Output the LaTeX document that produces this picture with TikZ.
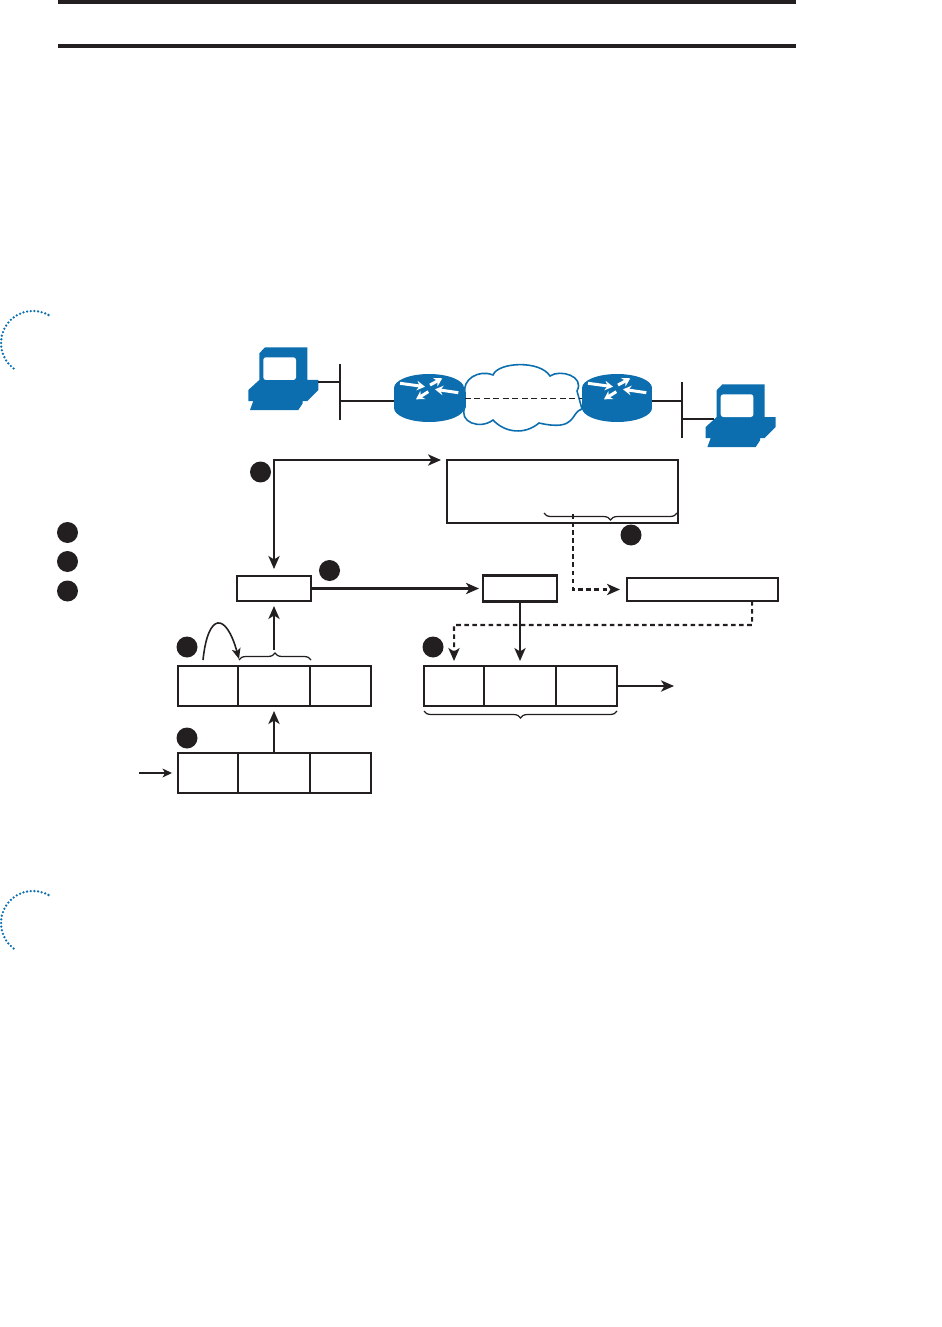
\documentclass[tikz,border=0pt]{standalone}
\usepackage{tikz}
\usetikzlibrary{arrows.meta, decorations.pathreplacing, positioning}
\definecolor{ink}{RGB}{35, 31, 32}
\definecolor{netblue}{RGB}{12, 110, 174}
\tikzset{
  box/.style={draw=ink, line width=1.3pt, inner sep=0pt, outer sep=0pt},
  cellside/.style={box, minimum width=1.2cm, minimum height=0.8cm},
  cellmid/.style={box, minimum width=1.44cm, minimum height=0.8cm},
  bullet/.style={circle, fill=ink, inner sep=0pt, minimum size=0.42cm},
  arw/.style={draw=ink, line width=1.15pt, -{Stealth[length=7.4pt, width=6.4pt, inset=2pt]}},
  dasharw/.style={arw, dash pattern=on 2.6pt off 2pt},
  curly/.style={draw=ink, line width=0.7pt, decorate, decoration={brace, amplitude=4pt}},
  rule/.style={ink, line width=2.2pt},
  dots/.style={netblue, line width=1.45pt, line cap=round, dash pattern=on 0pt off 2.1pt},
  routerarw/.style={white, line width=1.7pt, -{Stealth[length=4.6pt, width=5.4pt]}},
  pics/pcunit/.style={code={
    \fill[netblue] (11.3,6.3) -- (17,0.3) -- (59.3,0.3) -- (59.3,33) -- (70.3,33) -- (70.3,43) -- (59.3,54)
      -- (54.7,54) -- (54.7,56.3) -- (50.3,63) -- (2,63) -- (5.3,54) -- (0.3,54) -- (0.3,43) -- (11.3,33) -- cycle;
    \fill[white, rounded corners=1.5pt] (15.3,10.3) rectangle (48,33);
  }},
  pics/router/.style={code={
    \fill[netblue] (-35,-10) rectangle (35,10);
    \fill[netblue] (0,10) ellipse (35 and 14);
    \fill[netblue] (0,-10) ellipse (35 and 14);
    \draw[routerarw] (-29,-14.7) -- (-4,-11.3);
    \draw[routerarw] (29.3,-5.3) -- (6,-8.7);
    \draw[routerarw] (1,-13) -- (13.3,-19.7);
    \draw[routerarw] (-0.7,-6.3) -- (-13,1.3);
  }},
}
\begin{document}
\begin{tikzpicture}[x=0.02cm, y=-0.02cm]
  \useasboundingbox (0,0) rectangle (941,1327);
  % page rules and margin arcs
  \draw[rule] (58,2) -- (796,2);
  \draw[rule] (58,46) -- (796,46);
  \draw[dots] (48.5,315) arc (-61:-234:32);
  \draw[dots] (48.5,895) arc (-61:-234:32);

  % network
  \draw[netblue, line width=0.9pt, fill=white] (465,393) .. controls (462,380) and (478,369) .. (493,375)
    .. controls (498,362) and (540,360) .. (550,376) .. controls (560,369) and (585,376) .. (577,391) -- (582,409)
    .. controls (570,412) and (578,432) .. (539,423) .. controls (525,435) and (505,433) .. (493,420)
    .. controls (480,430) and (458,422) .. (465,407) -- cycle;
  \draw[ink, line width=0.5pt, dash pattern=on 3.4pt off 2pt] (465,398.4) -- (582,398.4);
  \pic at (248,347) {pcunit};
  \pic at (705.4,384) {pcunit};
  \pic at (429,398) {router};
  \pic at (617,398) {router};
  \draw[ink, line width=1.1pt] (318,382) -- (340,382);
  \draw[ink, line width=0.7pt] (340,364) -- (340,420);
  \draw[ink, line width=1.1pt] (340,401) -- (394,401);
  \draw[ink, line width=1.1pt] (652,401) -- (682,401);
  \draw[ink, line width=1.1pt] (682,382) -- (682,438);
  \draw[ink, line width=0.7pt] (682,419) -- (714,419);

  % boxes
  \node[box, minimum width=4.62cm, minimum height=1.26cm] (header) at (562.5,491.5) {};
  \node[box, minimum width=1.48cm, minimum height=0.5cm] (boxa) at (274,588.5) {};
  \node[box, minimum width=1.48cm, minimum height=0.52cm] (boxb) at (520,588.5) {};
  \node[box, minimum width=3.02cm, minimum height=0.46cm] (boxc) at (702.5,589.5) {};

  \node[cellmid] (rowamid) at (274,686) {};
  \node[cellside, left=0pt of rowamid] (rowaleft) {};
  \node[cellside, minimum width=1.22cm, right=0pt of rowamid] (rowaright) {};
  \node[cellmid] (rowbmid) at (274,773) {};
  \node[cellside, left=0pt of rowbmid] (rowbleft) {};
  \node[cellside, minimum width=1.22cm, right=0pt of rowbmid] (rowbright) {};
  \node[cellmid] (rowcmid) at (520,686) {};
  \node[cellside, left=0pt of rowcmid] (rowcleft) {};
  \node[cellside, minimum width=1.22cm, right=0pt of rowcmid] (rowcright) {};

  % numbered marks
  \node[bullet] (marka) at (67.5,532.5) {};
  \node[bullet] (markb) at (67.5,561.5) {};
  \node[bullet] (markc) at (67.5,591) {};
  \node[bullet] (markd) at (260.5,472) {};
  \node[bullet] (marke) at (631,535) {};
  \node[bullet] (markf) at (329.5,570.5) {};
  \node[bullet] (markg) at (187,647) {};
  \node[bullet] (markh) at (433,647) {};
  \node[bullet] (marki) at (187,738) {};

  % braces
  \draw[curly] (239,660) -- (311,660);
  \draw[curly] (677,513) -- (544,513);
  \draw[curly] (617,711) -- (424,711);

  % free ends
  \coordinate (rowain) at (139,773);
  \coordinate (rowcout) at (674,686);
  \coordinate (braceup) at (274,650);
  \coordinate (dashfrom) at (573,514);
  \coordinate (boxcout) at (752,601);
  \coordinate (dashturn) at (454,625);

  % connectors
  \draw[arw, {Stealth[length=7.4pt, width=6.4pt, inset=2pt]}-{Stealth[length=7.4pt, width=6.4pt, inset=2pt]}, shorten <=0.14cm, shorten >=0.12cm] (boxa.north) |- (header.north west);
  \draw[arw, shorten >=0.08cm] (boxa.east) -- (boxb.west);
  \draw[arw, shorten >=0.1cm] (boxb.south) -- (rowcmid.north);
  \draw[arw, shorten >=0.1cm] (braceup) -- (boxa.south);
  \draw[arw, shorten >=0.1cm] (rowbmid.north) -- (rowamid.south);
  \draw[arw, line width=0.9pt, -{Stealth[length=5.4pt, width=5pt, inset=1.5pt]}, shorten >=0.12cm] (rowain) -- (rowbleft.west);
  \draw[arw] (rowcright.east) -- (rowcout);
  \draw[dasharw, shorten >=0.14cm] (dashfrom) |- (boxc.west);
  \draw[dasharw, shorten >=0.1cm] (boxcout) |- (dashturn) -- (rowcleft.north);
  \draw[arw, line width=0.9pt, -{Stealth[length=6pt, width=5pt, inset=1.5pt]}] (203,660) .. controls (208,612) and (226,612) .. (239,659);
\end{tikzpicture}
\end{document}
